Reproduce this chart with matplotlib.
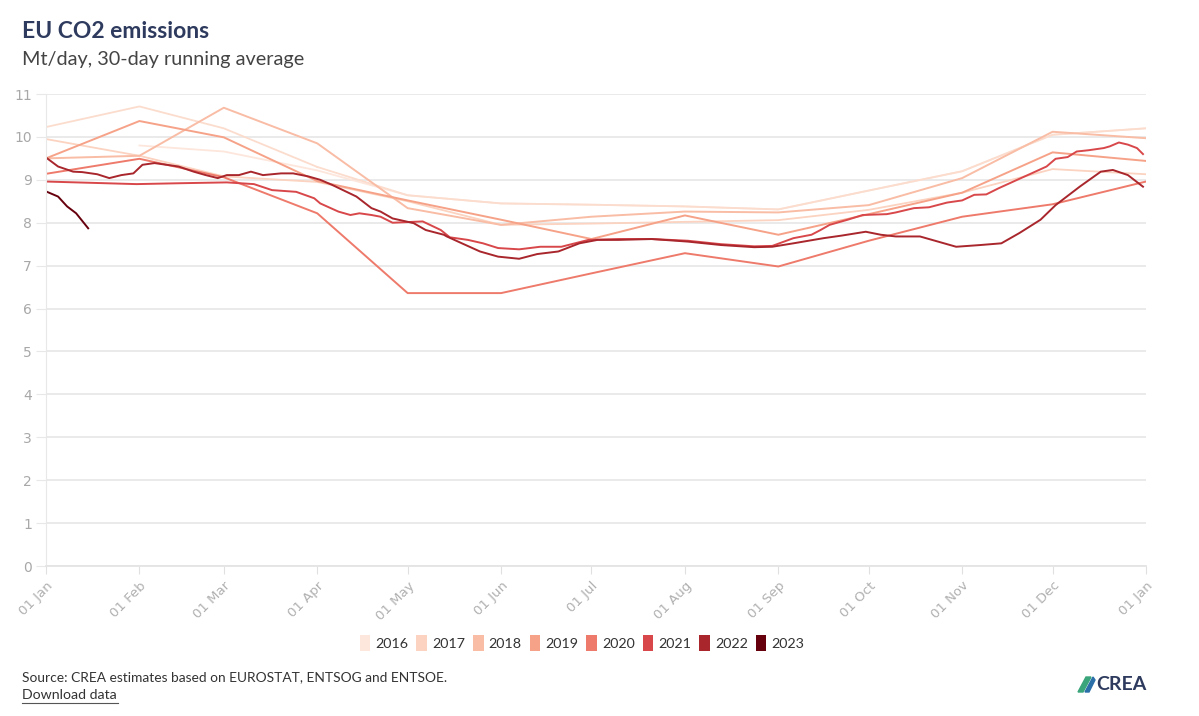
import matplotlib
matplotlib.use("Agg")
import matplotlib.pyplot as plt
import matplotlib.dates as mdates
from matplotlib.patches import Patch, Polygon
from matplotlib.lines import Line2D
import pandas as pd

# monthly series (value on the 1st of each month, last point = 1 Jan next year)
month_days = [0, 31, 59, 90, 120, 151, 181, 212, 243, 273, 304, 334, 365]
y2016 = [None, 9.80, 9.66, 9.22, 8.64, 8.45, 8.42, 8.38, 8.31, 8.75, 9.20, 10.05, 10.20]
y2016_top = [10.23, 10.71, 10.20, 9.30]
y2017 = [9.95, 9.56, 9.08, 8.95, 8.50, 7.95, 7.98, 8.02, 8.06, 8.30, 8.70, 9.25, 9.13]
y2018 = [9.50, 9.56, 10.68, 9.85, 8.34, 7.95, 8.14, 8.26, 8.24, 8.41, 9.04, 10.12, 9.97]
y2019 = [9.50, 10.37, 9.99, 8.97, 8.52, 8.07, 7.62, 8.17, 7.72, 8.20, 8.70, 9.64, 9.44]
y2020 = [9.14, 9.49, 9.06, 8.22, 6.36, 6.36, 6.82, 7.29, 6.98, 7.58, 8.14, 8.43, 8.96]

# daily series (day of year, value)
d2021 = [0, 15, 30, 44, 60, 69, 75, 83, 89, 91, 97, 101, 104, 108, 111, 115, 125, 131, 134,
         140, 145, 150, 157, 164, 171, 180, 190, 201, 213, 224, 235, 241, 248, 254, 257, 260,
         266, 271, 279, 282, 288, 293, 299, 304, 308, 312, 316, 321, 327, 332, 335, 339, 342,
         346, 351, 353, 356, 359, 362, 364]
v2021 = [8.96, 8.93, 8.90, 8.92, 8.94, 8.90, 8.76, 8.72, 8.57, 8.45, 8.26, 8.18, 8.22, 8.18,
         8.14, 8.00, 8.03, 7.83, 7.66, 7.60, 7.52, 7.41, 7.38, 7.44, 7.44, 7.60, 7.62, 7.62,
         7.58, 7.50, 7.45, 7.46, 7.64, 7.72, 7.83, 7.95, 8.07, 8.18, 8.20, 8.24, 8.34, 8.36,
         8.47, 8.52, 8.65, 8.66, 8.80, 8.96, 9.15, 9.31, 9.49, 9.53, 9.66, 9.69, 9.74, 9.78,
         9.87, 9.82, 9.74, 9.60]
d2022 = [0, 4, 9, 12, 17, 21, 25, 29, 32, 36, 40, 44, 49, 53, 57, 60, 64, 68, 72, 78, 82, 87,
         91, 95, 103, 108, 111, 115, 122, 126, 132, 133, 138, 144, 150, 157, 163, 170, 177, 183,
         190, 201, 213, 224, 235, 241, 248, 258, 264, 272, 277, 282, 290, 296, 302, 310, 317,
         323, 330, 335, 343, 350, 354, 359, 364]
v2022 = [9.52, 9.31, 9.19, 9.18, 9.13, 9.04, 9.11, 9.15, 9.35, 9.39, 9.35, 9.31, 9.19, 9.11,
         9.04, 9.11, 9.11, 9.19, 9.11, 9.15, 9.15, 9.08, 9.00, 8.88, 8.61, 8.34, 8.26, 8.10,
         7.99, 7.83, 7.72, 7.68, 7.52, 7.33, 7.21, 7.16, 7.27, 7.33, 7.52, 7.60, 7.60, 7.62,
         7.56, 7.48, 7.43, 7.44, 7.52, 7.64, 7.70, 7.79, 7.72, 7.68, 7.68, 7.56, 7.44, 7.48,
         7.52, 7.76, 8.07, 8.41, 8.84, 9.19, 9.23, 9.11, 8.84]
d2023 = [0, 4, 7, 10, 14]
v2023 = [8.73, 8.61, 8.38, 8.22, 7.87]

years = ["2016", "2017", "2018", "2019", "2020", "2021", "2022", "2023"]
colors = ["#fde6dc", "#fbd3c0", "#f9bca5", "#f6a288", "#ee7a6b", "#d8474a", "#a8262c", "#67000d"]

base = pd.Timestamp("2022-01-01")
def to_dates(days):
    return [base + pd.Timedelta(days=d) for d in days]

fig = plt.figure(figsize=(11.99, 7.16), dpi=100)
ax = fig.add_axes([46/1199, 1-566/716, 1100/1199, 472/716])

# 2016 faint lines
ax.plot(to_dates(month_days[1:]), y2016[1:], color=colors[0], lw=1.3)
ax.plot(to_dates(month_days[:4]), y2016_top, color="#fbdccd", lw=1.3)
ax.plot(to_dates(month_days[3:]), [9.30] + y2016[4:], color="#fbdccd", lw=1.3)
ax.plot(to_dates(month_days), y2017, color=colors[1], lw=1.3)
ax.plot(to_dates(month_days), y2018, color=colors[2], lw=1.4)
ax.plot(to_dates(month_days), y2019, color=colors[3], lw=1.4)
ax.plot(to_dates(month_days), y2020, color=colors[4], lw=1.4)
ax.plot(to_dates(d2021), v2021, color=colors[5], lw=1.4)
ax.plot(to_dates(d2022), v2022, color=colors[6], lw=1.4)
ax.plot(to_dates(d2023), v2023, color=colors[7], lw=1.4)

ax.set_xlim(base, base + pd.Timedelta(days=365))
ax.set_ylim(0, 11)
ax.set_yticks(range(0, 12))
ax.grid(axis="y", color="#e8e8e8", lw=1.3)
ax.set_axisbelow(True)
for s in ["top", "right"]:
    ax.spines[s].set_visible(False)
ax.spines["left"].set_color("#e8e8e8")
ax.spines["bottom"].set_color("#e4e4e4")
ax.spines["bottom"].set_linewidth(1.3)

ticks = [base + pd.DateOffset(months=i) for i in range(13)]
ax.set_xticks(ticks)
ax.xaxis.set_major_formatter(mdates.DateFormatter("%d %b"))
ax.tick_params(axis="x", colors="#e0e0e0", labelcolor="#b0b0b0", labelsize=9.5, length=6)
ax.tick_params(axis="y", colors="#e8e8e8", labelcolor="#a8a8a8", labelsize=10, length=7, pad=3)
for lab in ax.get_xticklabels():
    lab.set_rotation(45)
    lab.set_ha("right")
    lab.set_rotation_mode("anchor")

fig.text(22/1199, 1-31/716, "EU CO2 emissions", fontsize=16.5, fontweight="bold",
         color="#2e3b5e", family="Lato", va="center")
fig.text(22/1199, 1-60/716, "Mt/day, 30-day running average", fontsize=14.3,
         color="#444444", family="Lato", va="center")

handles = [Patch(facecolor=c, edgecolor="none") for c in colors]
fig.legend(handles, years, loc="center", bbox_to_anchor=(582/1199, 1-643/716), ncol=8,
           frameon=False, handlelength=0.75, handleheight=1.25,
           handletextpad=0.35, columnspacing=0.55, labelcolor="#333333",
           prop={"family": "Lato", "size": 10.3})

fig.text(22/1199, 1-677/716, "Source: CREA estimates based on EUROSTAT, ENTSOG and ENTSOE.",
         fontsize=9.9, color="#333333", family="Lato", va="center")
fig.text(22/1199, 1-695/716, "Download data", fontsize=10.2, color="#333333",
         family="Lato", va="center")
fig.add_artist(Line2D([22/1199, 118/1199], [1-703/716, 1-703/716], color="#555555", lw=0.8))

# CREA logo
fig.text(1096/1199, 1-685/716, "CREA", fontsize=14, fontweight="bold", color="#2e3b5e",
         family="Lato", va="center")
fig.add_artist(Polygon([[1078/1199, 1-692/716], [1086/1199, 1-677/716],
                        [1091/1199, 1-677/716], [1083/1199, 1-692/716]],
                       closed=True, color="#3aa57a", transform=fig.transFigure))
fig.add_artist(Polygon([[1085/1199, 1-692/716], [1093/1199, 1-677/716],
                        [1095/1199, 1-680/716], [1089/1199, 1-692/716]],
                       closed=True, color="#2b6fa8", transform=fig.transFigure))

fig.savefig("out.png", dpi=100)
